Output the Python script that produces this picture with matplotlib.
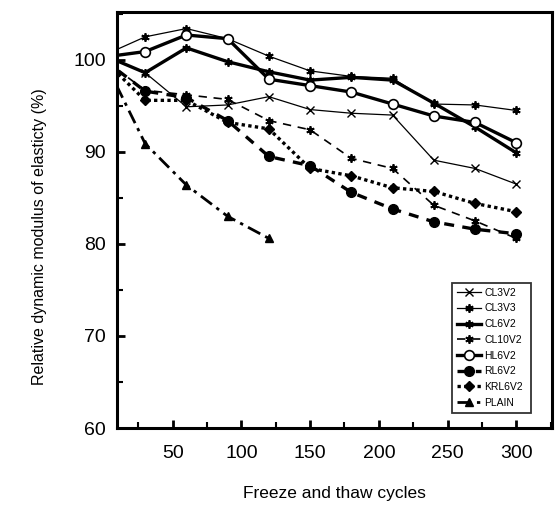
import matplotlib
matplotlib.use("Agg")
import matplotlib.pyplot as plt
from matplotlib.ticker import MultipleLocator

plt.rcParams['font.family'] = ['Liberation Sans', 'DejaVu Sans']

cycles = [0, 30, 60, 90, 120, 150, 180, 210, 240, 270, 300]
plain_cycles = [0, 30, 60, 90, 120]

CL3V2 = [100.5, 98.6, 94.9, 95.1, 96.0, 94.6, 94.2, 94.0, 89.1, 88.2, 86.5]
CL3V3 = [100.5, 102.5, 103.4, 102.3, 100.4, 98.8, 98.2, 98.0, 95.2, 95.1, 94.5]
CL6V2 = [100.5, 98.6, 101.3, 99.8, 98.7, 97.8, 98.1, 97.8, 95.3, 92.7, 89.9]
CL10V2 = [100.0, 96.7, 96.2, 95.7, 93.4, 92.4, 89.3, 88.2, 84.2, 82.5, 80.6]
HL6V2 = [100.3, 100.9, 102.7, 102.3, 97.9, 97.2, 96.5, 95.2, 93.9, 93.2, 91.0]
RL6V2 = [100.0, 96.6, 95.9, 93.4, 89.5, 88.5, 85.6, 83.8, 82.4, 81.6, 81.1]
KRL6V2 = [100.0, 95.6, 95.6, 93.2, 92.5, 88.2, 87.4, 86.1, 85.7, 84.4, 83.5]
PLAIN = [100.0, 90.9, 86.4, 83.0, 80.6]

fig = plt.figure(figsize=(5.56, 5.26), dpi=100)
ax = fig.add_axes([0.2104, 0.1863, 0.7824, 0.7909])

ms = 6
ax.plot(cycles, CL3V2, color='k', lw=0.9, marker='x', ms=ms, mew=1.0, label='CL3V2')
ax.plot(cycles, CL3V3, color='k', lw=0.9, marker=(6, 2, 0), ms=ms, mew=1.3, label='CL3V3')
ax.plot(cycles, CL6V2, color='k', lw=2.4, marker=(6, 2, 0), ms=ms, mew=1.3, label='CL6V2')
ax.plot(cycles, CL10V2, color='k', lw=1.2, ls=(0, (5, 4)), marker=(6, 2, 0), ms=ms, mew=1.3, label='CL10V2')
ax.plot(cycles, HL6V2, color='k', lw=2.4, marker='o', ms=ms + 1, mfc='white', mew=1.2, label='HL6V2')
ax.plot(cycles, RL6V2, color='k', lw=2.4, ls=(0, (3, 2.5)), marker='o', ms=ms + 1, label='RL6V2')
ax.plot(cycles, KRL6V2, color='k', lw=2.4, ls=(0, (1, 1)), marker='D', ms=ms - 1, label='KRL6V2')
ax.plot(plain_cycles, PLAIN, color='k', lw=2.0, ls=(0, (5, 2, 1.2, 2)), marker='^', ms=ms, label='PLAIN')

ax.set_xlim(9.5, 326)
ax.set_ylim(60, 105.2)
ax.xaxis.set_major_locator(MultipleLocator(50))
ax.xaxis.set_minor_locator(MultipleLocator(25))
ax.yaxis.set_major_locator(MultipleLocator(10))
ax.yaxis.set_minor_locator(MultipleLocator(5))
ax.tick_params(which='major', direction='in', length=6, width=2, labelsize=14, pad=8)
ax.tick_params(which='minor', direction='in', length=4, width=1.5)
ax.tick_params(axis='x', pad=12)
for s in ax.spines.values():
    s.set_linewidth(2.2)

ax.set_xlabel('Freeze and thaw cycles', fontsize=12.5)
ax.xaxis.set_label_coords(0.5, -0.14)
ax.set_ylabel('Relative dynamic modulus of elasticty (%)', fontsize=11.5)
ax.yaxis.set_label_coords(-0.161, 0.46)

leg = ax.legend(loc='lower left', bbox_to_anchor=(0.77, 0.036, 0.182, 0.39), mode='expand',
                fontsize=7.5, frameon=True, fancybox=False, handlelength=2.3, handletextpad=0.3,
                borderpad=0.5, labelspacing=0.55, borderaxespad=0)
leg.get_frame().set_edgecolor('k')
leg.get_frame().set_linewidth(1.3)

fig.savefig('out.png', dpi=100)
